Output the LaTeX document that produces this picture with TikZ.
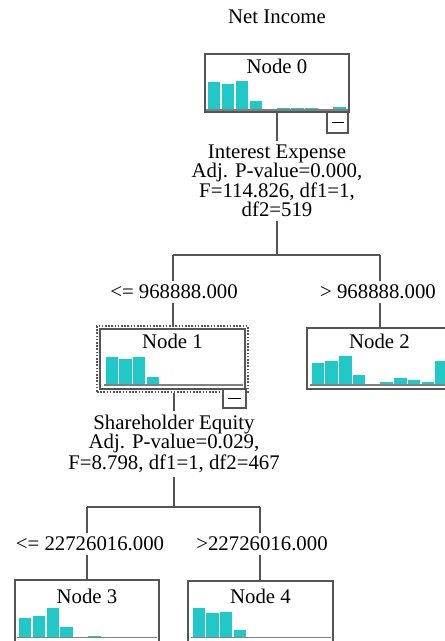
\documentclass[tikz,border=0pt]{standalone}
\usepackage{fontspec}
\setmainfont{Liberation Serif}
\definecolor{barc}{RGB}{32,200,200}
\definecolor{edgec}{RGB}{85,85,85}
\newcommand{\histo}[4]{%
  \foreach \i/\h in {#4} {\fill[barc] ({#1+\i*#3+0.7},#2) rectangle ({#1+(\i+1)*#3-0.7},{#2-\h});}}
\begin{document}
\begin{tikzpicture}[x=0.75pt,y=-0.75pt,
  every node/.style={font=\fontsize{15.6}{14.25}\selectfont},
  box/.style={draw=edgec,line width=1pt,fill=white,inner sep=0pt},
  cbox/.style={draw=edgec,line width=0.9pt,fill=white,inner sep=0pt},
  link/.style={draw=edgec,line width=0.8pt},
  split/.style={align=center,inner sep=3pt},
  cond/.style={inner sep=3pt},
  axis/.style={draw=gray,line width=0.9pt},
  minus/.style={draw=black,line width=0.7pt}]
\clip (0,0) rectangle (445,641);
\fill[white] (0,0) rectangle (445,641);
\node (title) at (277,17) {Net Income};

% Node 0
\node[box,minimum width=108pt,minimum height=43.5pt] (n0) at (277,83) {};
\node (t0) at (277,66) {Node 0};
\histo{207}{110}{13.95}{0/28,1/26,2/29,3/9,5/1.5,6/1.5,7/1.5,9/2.5}
\draw[axis] (206,110) -- (348,110);
\node[cbox,minimum width=15.75pt,minimum height=15.75pt] (c0) at (337.5,122.5) {};
\draw[minus] ([xshift=-4.5pt]c0.center) -- ([xshift=4.5pt]c0.center);

% split 0
\node[split] (s0) at (277,181) {Interest Expense\\Adj. P-value=0.000,\\F=114.826, df1=1,\\df2=519};
\coordinate (j0) at (277,255);
\coordinate (jl0) at (173,255);
\coordinate (jr0) at (380,255);
\draw[link] (n0.south) -- (s0.north);
\draw[link] (s0.south) -- (j0);
\draw[link] (jl0) -- (jr0);
\node[cond] (cl0) at (174,292) {<= 968888.000};
\node[cond] (cr0) at (378,292) {> 968888.000};
\draw[link] (jl0) -- (jl0 |- cl0.north);
\draw[link] (jr0) -- (jr0 |- cr0.north);

% Node 1
\node[draw=edgec,line width=0.8pt,dash pattern=on 1.2pt off 1.2pt,inner sep=0pt,minimum width=113.25pt,minimum height=49.5pt] (n1o) at (172.5,359) {};
\node[box,minimum width=108.75pt,minimum height=45pt] (n1) at (172.5,359) {};
\node (t1) at (172.5,341) {Node 1};
\histo{105}{385}{13.7}{0/28,1/26,2/28,3/8}
\draw[axis] (104,385) -- (243,385);
\draw[link] (jl0 |- cl0.south) -- (jl0 |- n1o.north);
\node[cbox,minimum width=17.25pt,minimum height=14.25pt] (c1) at (234.5,398.5) {};
\draw[minus] ([xshift=-5pt]c1.center) -- ([xshift=5pt]c1.center);

% Node 2
\node[box,minimum width=108.75pt,minimum height=45.75pt] (n2) at (379.5,358.5) {};
\node (t2) at (379.5,341) {Node 2};
\histo{311}{385}{13.75}{0/22,1/24,2/29,3/10,5/3,6/7,7/5,8/3,9/24}
\draw[axis] (310,385) -- (452,385);
\draw[link] (jr0 |- cr0.south) -- (jr0 |- n2.north);

% split 1
\node[split] (s1) at (174,444) {Shareholder Equity\\Adj. P-value=0.029,\\F=8.798, df1=1, df2=467};
\coordinate (j1) at (174,507);
\coordinate (jl1) at (87,507);
\coordinate (jr1) at (260,507);
\draw[link] (n1o.south -| s1.north) -- (s1.north);
\draw[link] (s1.south) -- (j1);
\draw[link] (jl1) -- (jr1);
\node[cond] (cl1) at (90,544) {<= 22726016.000};
\node[cond] (cr1) at (262,544) {>22726016.000};
\draw[link] (jl1) -- (jl1 |- cl1.north);
\draw[link] (jr1) -- (jr1 |- cr1.north);

% Node 3
\node[box,minimum width=108pt,minimum height=46.5pt] (n3) at (87,611) {};
\node (t3) at (87,596) {Node 3};
\histo{18}{637}{13.9}{0/19,1/21,2/29,3/10,5/1.2}
\draw[axis] (17,637.5) -- (157,637.5);
\draw[link] (jl1 |- cl1.south) -- (jl1 |- n3.north);

% Node 4
\node[box,minimum width=108.75pt,minimum height=46.5pt] (n4) at (260.5,612) {};
\node (t4) at (260.5,596) {Node 4};
\histo{192}{637}{13.7}{0/29,1/24,2/25,3/7}
\draw[axis] (191,637.5) -- (331,637.5);
\draw[link] (jr1 |- cr1.south) -- (jr1 |- n4.north);
\end{tikzpicture}
\end{document}
